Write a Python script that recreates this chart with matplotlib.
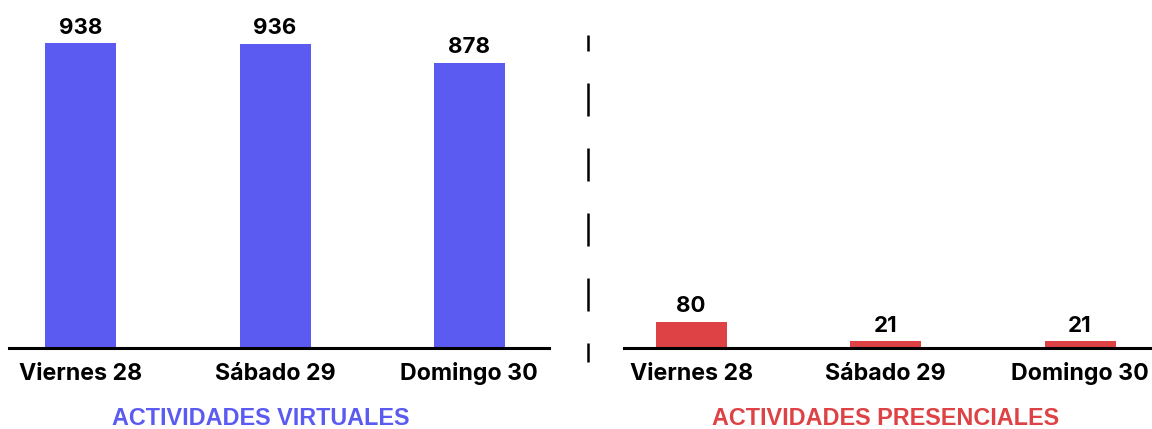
import matplotlib.pyplot as plt
from matplotlib.lines import Line2D

# Data
dias = ["Viernes 28", "Sábado 29", "Domingo 30"]
virtuales = [938, 936, 878]
presenciales = [80, 21, 21]

color_virtual = "#5b5bf2"
color_presencial = "#de4244"

plt.rcParams['font.family'] = ['Inter', 'DejaVu Sans']
plt.rcParams['lines.scale_dashes'] = False

W, H = 1152, 429
fig = plt.figure(figsize=(W / 100, H / 100), dpi=100)

y_max = 1071
ax_bottom = (H - 348) / H
ax_height = 348 / H


def draw_panel(ax, values, color, xlim):
    x = range(len(values))
    bars = ax.bar(x, values, width=0.365, color=color)
    ax.set_xlim(*xlim)
    ax.set_ylim(0, y_max)
    for rect, v in zip(bars, values):
        ax.annotate(str(v), (rect.get_x() + rect.get_width() / 2, v),
                    xytext=(0, 4), textcoords='offset points',
                    ha='center', va='bottom', fontsize=16, fontweight='bold')
    ax.set_xticks(list(x))
    ax.set_xticklabels(dias, fontsize=16.7, fontweight='bold', va='baseline')
    ax.tick_params(axis='x', length=0, pad=23)
    ax.set_yticks([])
    for s in ['top', 'left', 'right']:
        ax.spines[s].set_visible(False)
    ax.spines['bottom'].set_linewidth(2.2)
    ax.patch.set_alpha(0)


ax1 = fig.add_axes([9 / W, ax_bottom, 540 / W, ax_height])
draw_panel(ax1, virtuales, color_virtual, (-0.37, 2.41))

ax2 = fig.add_axes([624 / W, ax_bottom, 528 / W, ax_height])
draw_panel(ax2, presenciales, color_presencial, (-0.345, 2.37))

# dashed separator
sep = Line2D([588 / W, 588 / W], [1 - 35 / H, 1 - 362 / H], transform=fig.transFigure,
             color='black', linewidth=1.8,
             linestyle=(17 * 0.72, (33 * 0.72, 32 * 0.72)))
fig.add_artist(sep)

fig.text(260.5 / W, 1 - 425 / H, "ACTIVIDADES VIRTUALES", ha='center', va='baseline',
         fontsize=16.8, fontweight='bold', color=color_virtual, family='Liberation Sans')
fig.text(885.5 / W, 1 - 425 / H, "ACTIVIDADES PRESENCIALES", ha='center', va='baseline',
         fontsize=16.8, fontweight='bold', color=color_presencial, family='Liberation Sans')

fig.savefig("out.png", dpi=100)
